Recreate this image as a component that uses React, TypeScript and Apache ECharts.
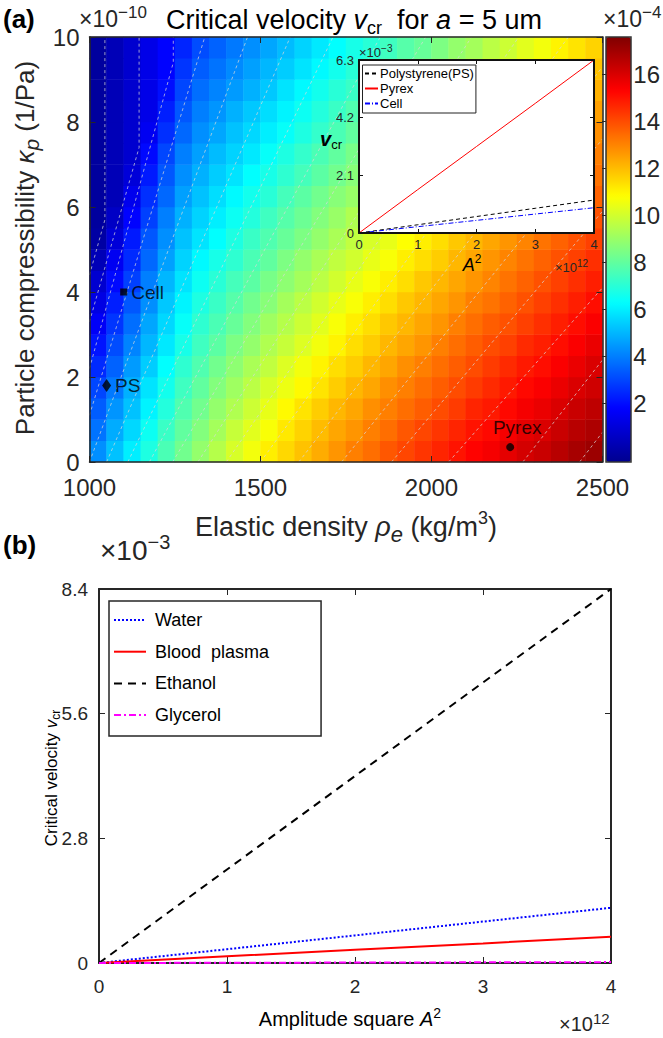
import React, { useEffect, useRef } from 'react';
import * as echarts from 'echarts';

// ---------- (a) field: critical velocity (x1e-4), cell centres ----------
const RHO_CENTERS = [1025, 1075, 1125, 1175, 1225, 1275, 1325, 1375, 1425, 1475, 1525, 1575, 1625, 1675, 1725, 1775, 1825, 1875, 1925, 1975, 2025, 2075, 2125, 2175, 2225, 2275, 2325, 2375, 2425, 2475];
const KAPPA_CENTERS = [0.25, 0.75, 1.25, 1.75, 2.25, 2.75, 3.25, 3.75, 4.25, 4.75, 5.25, 5.75, 6.25, 6.75, 7.25, 7.75, 8.25, 8.75, 9.25, 9.75];
const VCR_K0 = [4.3, 5.2, 6.0, 6.8, 7.6, 8.3, 8.9, 9.5, 10.1, 10.6, 11.1, 11.5, 11.9, 12.3, 12.7, 13.1, 13.4, 13.8, 14.1, 14.4, 14.7, 15.0, 15.3, 15.5, 15.8, 16.1, 16.3, 16.6, 16.9, 17.1];
const VCR_K1 = [3.8, 4.8, 5.6, 6.5, 7.3, 8.0, 8.6, 9.2, 9.8, 10.3, 10.7, 11.2, 11.6, 12.0, 12.4, 12.7, 13.1, 13.4, 13.8, 14.1, 14.4, 14.7, 15.0, 15.2, 15.5, 15.8, 16.0, 16.3, 16.6, 16.8];
const VCR_K2 = [3.4, 4.4, 5.2, 6.1, 6.9, 7.7, 8.3, 8.9, 9.4, 9.9, 10.4, 10.9, 11.3, 11.7, 12.1, 12.4, 12.8, 13.1, 13.4, 13.7, 14.0, 14.3, 14.7, 14.9, 15.2, 15.5, 15.7, 16.0, 16.3, 16.5];
const VCR_K3 = [3.0, 3.9, 4.9, 5.8, 6.6, 7.4, 8.0, 8.6, 9.1, 9.6, 10.1, 10.5, 10.9, 11.3, 11.7, 12.1, 12.4, 12.8, 13.1, 13.4, 13.7, 14.0, 14.3, 14.6, 14.9, 15.2, 15.4, 15.7, 16.0, 16.2];
const VCR_K4 = [2.5, 3.5, 4.5, 5.4, 6.3, 7.1, 7.7, 8.3, 8.8, 9.3, 9.7, 10.2, 10.6, 11.0, 11.4, 11.7, 12.1, 12.4, 12.8, 13.1, 13.4, 13.7, 14.0, 14.3, 14.6, 14.9, 15.1, 15.4, 15.7, 16.0];
const VCR_K5 = [2.1, 3.1, 4.1, 5.0, 5.9, 6.7, 7.4, 7.9, 8.5, 8.9, 9.4, 9.8, 10.2, 10.6, 11.0, 11.4, 11.7, 12.1, 12.4, 12.7, 13.1, 13.4, 13.7, 14.0, 14.2, 14.6, 14.8, 15.1, 15.4, 15.7];
const VCR_K6 = [1.6, 2.7, 3.7, 4.7, 5.6, 6.4, 7.1, 7.6, 8.1, 8.6, 9.1, 9.5, 9.9, 10.3, 10.7, 11.1, 11.4, 11.8, 12.1, 12.4, 12.7, 13.1, 13.4, 13.7, 13.9, 14.2, 14.5, 14.8, 15.1, 15.4];
const VCR_K7 = [1.2, 2.3, 3.3, 4.3, 5.3, 6.1, 6.8, 7.3, 7.8, 8.3, 8.7, 9.2, 9.6, 10.0, 10.4, 10.7, 11.1, 11.4, 11.8, 12.1, 12.4, 12.7, 13.1, 13.3, 13.6, 13.9, 14.2, 14.5, 14.8, 15.1];
const VCR_K8 = [0.8, 1.9, 2.9, 4.0, 5.0, 5.8, 6.5, 7.0, 7.5, 7.9, 8.4, 8.8, 9.2, 9.6, 10.0, 10.4, 10.7, 11.1, 11.4, 11.8, 12.1, 12.4, 12.7, 13.0, 13.3, 13.6, 13.9, 14.2, 14.5, 14.8];
const VCR_K9 = [0.3, 1.5, 2.5, 3.6, 4.6, 5.5, 6.2, 6.7, 7.1, 7.6, 8.0, 8.5, 8.9, 9.3, 9.7, 10.0, 10.4, 10.7, 11.1, 11.4, 11.7, 12.1, 12.4, 12.7, 13.0, 13.3, 13.6, 13.9, 14.2, 14.5];
const VCR_K10 = [-0.1, 1.0, 2.2, 3.3, 4.3, 5.2, 5.8, 6.3, 6.8, 7.3, 7.7, 8.1, 8.5, 8.9, 9.3, 9.7, 10.1, 10.4, 10.8, 11.1, 11.4, 11.8, 12.1, 12.4, 12.7, 13.0, 13.3, 13.6, 13.9, 14.2];
const VCR_K11 = [-0.2, 0.6, 1.8, 2.9, 4.0, 4.9, 5.5, 6.0, 6.5, 6.9, 7.4, 7.8, 8.2, 8.6, 9.0, 9.4, 9.7, 10.1, 10.4, 10.8, 11.1, 11.4, 11.8, 12.1, 12.4, 12.7, 13.0, 13.3, 13.6, 13.9];
const VCR_K12 = [-0.2, 0.3, 1.4, 2.6, 3.6, 4.6, 5.2, 5.7, 6.2, 6.6, 7.0, 7.5, 7.9, 8.3, 8.7, 9.0, 9.4, 9.7, 10.1, 10.4, 10.8, 11.1, 11.5, 11.8, 12.1, 12.4, 12.7, 13.0, 13.3, 13.6];
const VCR_K13 = [-0.2, 0.3, 1.0, 2.2, 3.3, 4.3, 4.9, 5.4, 5.8, 6.3, 6.7, 7.1, 7.5, 7.9, 8.3, 8.7, 9.0, 9.4, 9.8, 10.1, 10.4, 10.8, 11.1, 11.4, 11.8, 12.1, 12.4, 12.7, 13.1, 13.3];
const VCR_K14 = [-0.2, 0.3, 0.8, 1.9, 3.0, 4.0, 4.6, 5.1, 5.5, 5.9, 6.4, 6.8, 7.2, 7.6, 8.0, 8.4, 8.7, 9.1, 9.4, 9.8, 10.1, 10.5, 10.8, 11.1, 11.5, 11.8, 12.1, 12.4, 12.8, 13.1];
const VCR_K15 = [-0.2, 0.3, 0.8, 1.5, 2.6, 3.6, 4.3, 4.7, 5.2, 5.6, 6.0, 6.4, 6.8, 7.2, 7.6, 8.0, 8.4, 8.7, 9.1, 9.4, 9.8, 10.1, 10.5, 10.8, 11.1, 11.5, 11.8, 12.1, 12.5, 12.8];
const VCR_K16 = [-0.2, 0.3, 0.8, 1.3, 2.3, 3.3, 4.0, 4.4, 4.9, 5.3, 5.7, 6.1, 6.5, 6.9, 7.3, 7.7, 8.0, 8.4, 8.8, 9.1, 9.5, 9.8, 10.2, 10.5, 10.8, 11.2, 11.5, 11.8, 12.2, 12.5];
const VCR_K17 = [-0.2, 0.3, 0.8, 1.3, 2.0, 3.0, 3.7, 4.1, 4.5, 4.9, 5.3, 5.8, 6.2, 6.6, 7.0, 7.3, 7.7, 8.0, 8.4, 8.8, 9.1, 9.5, 9.9, 10.2, 10.5, 10.9, 11.2, 11.5, 11.9, 12.2];
const VCR_K18 = [-0.2, 0.3, 0.8, 1.3, 1.8, 2.7, 3.4, 3.8, 4.2, 4.6, 5.0, 5.4, 5.8, 6.2, 6.6, 7.0, 7.4, 7.7, 8.1, 8.5, 8.8, 9.2, 9.5, 9.9, 10.2, 10.6, 10.9, 11.2, 11.6, 11.9];
const VCR_K19 = [-0.2, 0.3, 0.8, 1.3, 1.8, 2.4, 3.1, 3.5, 3.9, 4.3, 4.7, 5.1, 5.5, 5.9, 6.3, 6.7, 7.0, 7.4, 7.8, 8.1, 8.5, 8.9, 9.2, 9.6, 9.9, 10.3, 10.6, 11.0, 11.3, 11.6];
const VCR_ROWS = [VCR_K0, VCR_K1, VCR_K2, VCR_K3, VCR_K4, VCR_K5, VCR_K6, VCR_K7, VCR_K8, VCR_K9, VCR_K10, VCR_K11, VCR_K12, VCR_K13, VCR_K14, VCR_K15, VCR_K16, VCR_K17, VCR_K18, VCR_K19];

// dashed contour lines (levels 0..17 x1e-4), as [rho, kappa] vertices
const CONTOURS = [
  [[1000, 4.4], [1045, 5.7], [1045, 10]],
  [[1000, 3.3], [1145, 7.4], [1145, 10]],
  [[1000, 2.2], [1245, 9.4], [1245, 10]],
  [[1000, 1.1], [1337, 10]],
  [[1000, 0], [1462, 10]],
  [[1050, 0], [1587, 10]],
  [[1112, 0], [1712, 10]],
  [[1175, 0], [1850, 10]],
  [[1243, 0], [1983, 10]],
  [[1317, 0], [2117, 10]],
  [[1400, 0], [2255, 10]],
  [[1500, 0], [2400, 10]],
  [[1612, 0], [2500, 9.3]],
  [[1737, 0], [2500, 7.6]],
  [[1883, 0], [2500, 5.9]],
  [[2050, 0], [2500, 4.1]],
  [[2267, 0], [2500, 2.4]],
  [[2433, 0], [2500, 0.7]],
];

const COLORBAR_MIN = -0.5;
const COLORBAR_MAX = 17.6;
const COLORBAR_TICKS = [2, 4, 6, 8, 10, 12, 14, 16];

// particle markers
const MARKER_NAMES = ['Cell', 'PS', 'Pyrex'];
const MARKER_RHO = [1100, 1050, 2230];
const MARKER_KAPPA = [4.0, 1.8, 0.35];

// inset (x1e12, x1e-3)
const INSET_A2 = [0, 1, 2, 3, 4];
const INSET_PS = [0, 0.3, 0.6, 0.9, 1.2];
const INSET_PYREX = [0, 1.58, 3.15, 4.72, 6.3];
const INSET_CELL = [0, 0.23, 0.46, 0.69, 0.92];

// (b) fluids (x1e12, x1e-3)
const FLUID_A2 = [0, 1, 2, 3, 4];
const WATER = [0, 0.31, 0.62, 0.93, 1.24];
const BLOOD = [0, 0.15, 0.3, 0.44, 0.59];
const ETHANOL = [0, 2.1, 4.2, 6.3, 8.4];
const GLYCEROL = [0, 0.005, 0.01, 0.015, 0.02];

const JET = ['#00008F', '#0000FF', '#0080FF', '#00FFFF', '#80FF80', '#FFFF00', '#FF8000', '#FF0000', '#800000'];
const FONT = 'Liberation Sans';
const AX = '#262626';

function frameAxis(extra: any) {
  return {
    type: 'value',
    axisLine: { show: true, onZero: false, lineStyle: { color: AX, width: 1.5 } },
    axisTick: { show: true, inside: true, length: 6, lineStyle: { color: AX } },
    axisLabel: { show: false },
    splitLine: { show: false },
    z: 10,
    ...extra,
  };
}

function supText(x: number, y: number, base: string, sup: string, size: number, supSize: number, z = 0) {
  return {
    type: 'text', x, y, z,
    style: {
      text: `{t|${base}}{p|${sup}}`, verticalAlign: 'middle',
      rich: {
        t: { fontFamily: FONT, fontSize: size, lineHeight: Math.round(size * 1.3), fill: AX },
        p: { fontFamily: FONT, fontSize: supSize, lineHeight: supSize, verticalAlign: 'top', fill: AX },
      },
    },
  };
}

export default function App() {
  const ref = useRef<HTMLDivElement>(null);
  useEffect(() => {
    if (!ref.current) return;
    const chart = echarts.init(ref.current, undefined, { renderer: 'svg' });

    const heatData: any[] = [];
    VCR_ROWS.forEach((row, i) => row.forEach((v, j) => heatData.push([j, i, v])));

    const plain = (v: number) => String(Math.round(v * 100) / 100);
    const lbl = (size: number, margin: number) => ({
      show: true, fontSize: size, fontFamily: FONT, color: AX, margin, formatter: plain,
    });

    const line = (name: string, xs: number[], ys: number[], color: string, type: any, width: number, xi: number, yi: number, z: number) => ({
      type: 'line', name, xAxisIndex: xi, yAxisIndex: yi, z,
      data: xs.map((x, k) => [x, ys[k]]),
      symbol: 'none', showSymbol: false,
      lineStyle: { color, type, width },
      itemStyle: { color },
    });

    const insetAxis = (extra: any) => frameAxis({
      axisLine: { show: true, onZero: false, lineStyle: { color: '#111', width: 2 } },
      axisTick: { show: true, inside: true, length: 4, lineStyle: { color: '#111' } },
      z: 7, ...extra,
    });
    const bAxis = (extra: any) => frameAxis({
      axisLine: { show: true, onZero: false, lineStyle: { color: AX, width: 2 } },
      ...extra,
    });

    const option: any = {
      animation: false,
      grid: [
        { left: 89.5, top: 37, width: 513, height: 425, show: false },
        { left: 606, top: 37, width: 25, height: 425, show: false },
        { left: 359, top: 60, width: 235, height: 173, show: true, backgroundColor: '#fff', borderWidth: 0, z: 5 },
        { left: 99, top: 589, width: 512, height: 374, show: false },
      ],
      xAxis: [
        { type: 'category', gridIndex: 0, data: RHO_CENTERS, show: false },
        frameAxis({ gridIndex: 0, min: 1000, max: 2500, interval: 500, position: 'bottom', axisLabel: lbl(24, 13) }),
        frameAxis({ gridIndex: 0, min: 1000, max: 2500, interval: 500, position: 'top' }),
        { type: 'value', gridIndex: 1, show: false, min: 0, max: 1 },
        insetAxis({ gridIndex: 2, min: 0, max: 4, interval: 1, position: 'bottom', axisLabel: lbl(13, 5) }),
        insetAxis({ gridIndex: 2, min: 0, max: 4, interval: 1, position: 'top' }),
        bAxis({ gridIndex: 3, min: 0, max: 4, interval: 1, position: 'bottom', axisLabel: lbl(19, 14) }),
        bAxis({ gridIndex: 3, min: 0, max: 4, interval: 1, position: 'top' }),
      ],
      yAxis: [
        { type: 'category', gridIndex: 0, data: KAPPA_CENTERS, show: false },
        frameAxis({ gridIndex: 0, min: 0, max: 10, interval: 2, position: 'left', axisLabel: lbl(24, 10) }),
        frameAxis({ gridIndex: 0, min: 0, max: 10, interval: 2, position: 'right' }),
        {
          type: 'value', gridIndex: 1, min: COLORBAR_MIN, max: COLORBAR_MAX, position: 'right', z: 10,
          axisLine: { show: false },
          axisTick: { show: true, inside: true, length: 4, customValues: COLORBAR_TICKS, lineStyle: { color: AX } },
          axisLabel: { ...lbl(24, 10), customValues: COLORBAR_TICKS },
          splitLine: { show: false },
        },
        insetAxis({ gridIndex: 2, min: 0, max: 6.3, interval: 2.1, position: 'left', axisLabel: lbl(13, 5) }),
        insetAxis({ gridIndex: 2, min: 0, max: 6.3, interval: 2.1, position: 'right' }),
        bAxis({ gridIndex: 3, min: 0, max: 8.4, interval: 2.8, position: 'left', axisLabel: lbl(19, 11) }),
        bAxis({ gridIndex: 3, min: 0, max: 8.4, interval: 2.8, position: 'right' }),
      ],
      visualMap: [{
        type: 'continuous', seriesIndex: 0, dimension: 2,
        min: COLORBAR_MIN, max: COLORBAR_MAX,
        inRange: { color: JET },
        left: 606, top: 37, itemWidth: 25, itemHeight: 425, padding: 0,
        calculable: false, hoverLink: false, show: true,
      }],
      legend: [
        {
          data: ['Polystyrene(PS)', 'Pyrex', 'Cell'],
          orient: 'vertical', left: 362.5, top: 65, z: 8,
          itemWidth: 13, itemHeight: 13, itemGap: 2,
          padding: [2, 2, 3, 1.5],
          itemStyle: { opacity: 0 },
          backgroundColor: '#fff', borderColor: '#222', borderWidth: 1,
          textStyle: { fontFamily: FONT, fontSize: 13, color: '#000', padding: [0, 0, 0, -3] },
        },
        {
          data: ['Water', 'Blood  plasma', 'Ethanol', 'Glycerol'],
          orient: 'vertical', left: 109, top: 601, z: 8,
          itemWidth: 32, itemHeight: 18, itemGap: 13.7,
          padding: [10, 52, 12, 4],
          itemStyle: { opacity: 0 },
          backgroundColor: '#fff', borderColor: AX, borderWidth: 1.5,
          textStyle: { fontFamily: FONT, fontSize: 18, color: '#000', padding: [0, 0, 0, 4] },
        },
      ],
      series: [
        {
          type: 'heatmap', xAxisIndex: 0, yAxisIndex: 0, data: heatData,
          itemStyle: { borderWidth: 0 }, emphasis: { disabled: true }, z: 2,
        },
        {
          type: 'lines', coordinateSystem: 'cartesian2d', xAxisIndex: 1, yAxisIndex: 1, polyline: true, z: 3,
          silent: true,
          data: CONTOURS.map((c) => ({ coords: c })),
          lineStyle: { color: '#d8d8d8', width: 0.9, type: [3, 3], opacity: 0.8 },
        },
        {
          type: 'scatter', xAxisIndex: 1, yAxisIndex: 1, z: 4,
          data: MARKER_NAMES.map((n, i) => ({
            name: n, value: [MARKER_RHO[i], MARKER_KAPPA[i]],
            symbol: i === 0 ? 'rect' : i === 1 ? 'diamond' : 'circle',
            symbolSize: i === 0 ? 7 : i === 1 ? [9, 13] : 8,
            label: {
              show: true, formatter: n, color: '#000', fontFamily: FONT, fontSize: 19,
              position: i === 2 ? 'top' : 'right', distance: i === 2 ? 6 : 4,
              offset: i === 2 ? [7, 0] : [0, 0],
            },
          })),
          itemStyle: { color: '#000' },
        },
        line('Polystyrene(PS)', INSET_A2, INSET_PS, '#000', [4, 3], 1, 4, 4, 6),
        line('Pyrex', INSET_A2, INSET_PYREX, '#FF0000', 'solid', 1, 4, 4, 6),
        line('Cell', INSET_A2, INSET_CELL, '#0000FF', [5, 2, 1, 2], 1, 4, 4, 6),
        line('Water', FLUID_A2, WATER, '#0000FF', [2, 2], 2, 6, 6, 11),
        line('Blood  plasma', FLUID_A2, BLOOD, '#FF0000', 'solid', 2, 6, 6, 11),
        line('Ethanol', FLUID_A2, ETHANOL, '#000', [8, 6], 2, 6, 6, 11),
        { ...line('Glycerol', FLUID_A2, GLYCEROL, '#FF00FF', [7, 3, 2, 3], 2, 6, 6, 12), clip: false },
      ],
      graphic: [
        { type: 'rect', shape: { x: 606, y: 37, width: 25, height: 425 }, style: { fill: 'none', stroke: '#333', lineWidth: 1.5 }, z: 100 },
        { type: 'text', x: 3, y: 19, style: { text: '(a)', font: `bold 26px "${FONT}"`, fill: '#000', verticalAlign: 'middle' } },
        { type: 'text', x: 3, y: 545, style: { text: '(b)', font: `bold 26px "${FONT}"`, fill: '#000', verticalAlign: 'middle' } },
        {
          type: 'text', x: 354, y: 20,
          style: {
            text: '{t|Critical velocity }{i|v}{s|cr}{t|  for }{i|a}{t| = 5 um}', align: 'center', verticalAlign: 'middle', fill: '#000',
            rich: {
              t: { fontFamily: FONT, fontSize: 27, lineHeight: 34, fill: '#000' },
              i: { fontFamily: FONT, fontSize: 27, fontStyle: 'italic', lineHeight: 34, fill: '#000' },
              s: { fontFamily: FONT, fontSize: 18, lineHeight: 18, verticalAlign: 'bottom', fill: '#000' },
            },
          },
        },
        supText(79, 19, '×10', '−10', 23, 17),
        supText(603, 19, '×10', '−4', 23, 17),
        {
          type: 'text', x: 25, y: 248, rotation: Math.PI / 2,
          style: {
            text: '{t|Particle compressibility }{i|κ}{s|p}{t| (1/Pa)}', align: 'center', verticalAlign: 'middle',
            rich: {
              t: { fontFamily: FONT, fontSize: 26, lineHeight: 34, fill: AX },
              i: { fontFamily: FONT, fontSize: 26, fontStyle: 'italic', lineHeight: 34, fill: AX },
              s: { fontFamily: FONT, fontSize: 21, fontStyle: 'italic', lineHeight: 21, verticalAlign: 'bottom', fill: AX },
            },
          },
        },
        {
          type: 'text', x: 346, y: 527,
          style: {
            text: '{t|Elastic density }{i|ρ}{s|e}{t| (kg/m}{p|3}{t|)}', align: 'center', verticalAlign: 'middle',
            rich: {
              t: { fontFamily: FONT, fontSize: 27, lineHeight: 36, fill: AX },
              i: { fontFamily: FONT, fontSize: 27, fontStyle: 'italic', lineHeight: 36, fill: AX },
              s: { fontFamily: FONT, fontSize: 22, fontStyle: 'italic', lineHeight: 22, verticalAlign: 'bottom', fill: AX },
              p: { fontFamily: FONT, fontSize: 18, lineHeight: 18, verticalAlign: 'top', fill: AX },
            },
          },
        },
        // inset texts
        supText(359, 52, '×10', '−3', 13, 10, 20),
        {
          type: 'text', x: 331, y: 139, z: 20,
          style: {
            text: '{i|v}{s|cr}', align: 'center', verticalAlign: 'middle',
            rich: {
              i: { fontFamily: FONT, fontSize: 20, fontStyle: 'italic', fontWeight: 'bold', lineHeight: 24, fill: '#000' },
              s: { fontFamily: FONT, fontSize: 13, lineHeight: 13, verticalAlign: 'bottom', fill: '#000' },
            },
          },
        },
        {
          type: 'text', x: 472, y: 265, z: 20,
          style: {
            text: '{i|A}{p|2}', align: 'center', verticalAlign: 'middle',
            rich: {
              i: { fontFamily: FONT, fontSize: 18, fontStyle: 'italic', lineHeight: 24, fill: '#000' },
              p: { fontFamily: FONT, fontSize: 12, lineHeight: 12, verticalAlign: 'top', fill: '#000' },
            },
          },
        },
        supText(555, 267, '×10', '12', 13, 10, 20),
        // (b) texts
        supText(100, 550, '×10', '−3', 28, 20),
        {
          type: 'text', x: 51, y: 778, rotation: Math.PI / 2,
          style: {
            text: '{t|Critical velocity }{i|v}{s|cr}', align: 'center', verticalAlign: 'middle',
            rich: {
              t: { fontFamily: FONT, fontSize: 17, lineHeight: 22, fill: '#000' },
              i: { fontFamily: FONT, fontSize: 17, fontStyle: 'italic', lineHeight: 22, fill: '#000' },
              s: { fontFamily: FONT, fontSize: 12, lineHeight: 12, verticalAlign: 'bottom', fill: '#000' },
            },
          },
        },
        {
          type: 'text', x: 350, y: 1019,
          style: {
            text: '{t|Amplitude square }{i|A}{p|2}', align: 'center', verticalAlign: 'middle',
            rich: {
              t: { fontFamily: FONT, fontSize: 20, lineHeight: 26, fill: '#000' },
              i: { fontFamily: FONT, fontSize: 20, fontStyle: 'italic', lineHeight: 26, fill: '#000' },
              p: { fontFamily: FONT, fontSize: 14, lineHeight: 14, verticalAlign: 'top', fill: '#000' },
            },
          },
        },
        supText(559, 1024, '×10', '12', 20, 15),
      ],
    };
    chart.setOption(option);
    return () => chart.dispose();
  }, []);
  return <div ref={ref} style={{ position: 'absolute', left: 0, top: 0, width: 663, height: 1038 }} />;
}
